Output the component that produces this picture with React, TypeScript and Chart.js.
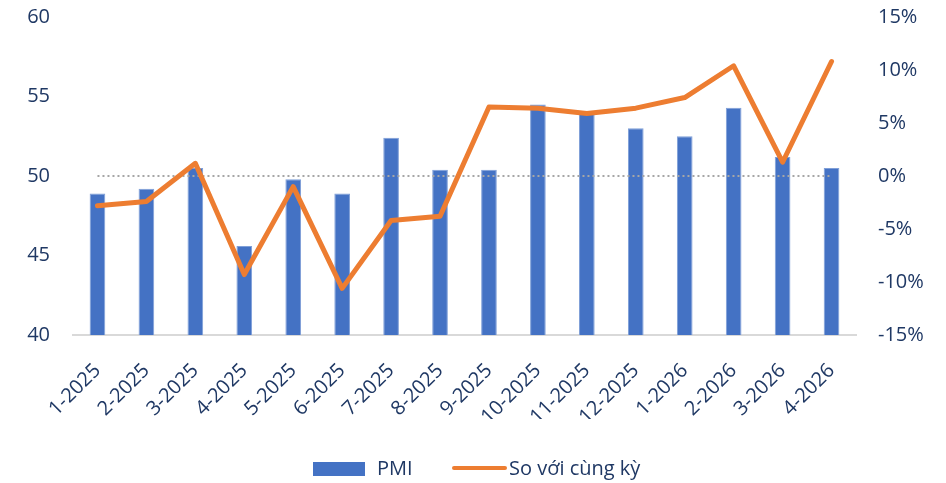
import React, { useEffect, useRef } from 'react';
import { Chart, registerables } from 'chart.js';

Chart.register(...registerables);

const categories = ['1-2025', '2-2025', '3-2025', '4-2025', '5-2025', '6-2025', '7-2025', '8-2025', '9-2025', '10-2025', '11-2025', '12-2025', '1-2026', '2-2026', '3-2026', '4-2026'];
const pmiValues = [48.9, 49.2, 50.5, 45.6, 49.8, 48.9, 52.4, 50.4, 50.4, 54.5, 54.0, 53.0, 52.5, 54.3, 51.2, 50.5];
const yoyValues = [-2.8, -2.4, 1.2, -9.3, -1.0, -10.6, -4.2, -3.8, 6.5, 6.4, 5.9, 6.4, 7.4, 10.4, 1.3, 10.8];
const thresholdValues = [50, 50, 50, 50, 50, 50, 50, 50, 50, 50, 50, 50, 50, 50, 50, 50];
const leftAxisRange = [40, 60];
const rightAxisRange = [-15, 15];
const seriesNames = ['PMI', 'So với cùng kỳ'];

const TEXT = '#1F3864';
const FONT = 'Open Sans';
const BAR = '#4472C4';
const LINE = '#ED7D31';

export default function App() {
  const ref = useRef<HTMLCanvasElement | null>(null);

  useEffect(() => {
    document.body.style.margin = '0';
    const ctx = ref.current!.getContext('2d')!;
    const chart = new Chart(ctx, {
      type: 'bar',
      data: {
        labels: categories,
        datasets: [
          {
            type: 'bar',
            label: seriesNames[0],
            data: pmiValues,
            backgroundColor: BAR,
            borderColor: '#7F9FD8',
            borderWidth: { top: 1, left: 1, right: 1, bottom: 0 },
            yAxisID: 'y',
            order: 2,
            barPercentage: 0.32,
            categoryPercentage: 1,
          } as any,
          {
            type: 'line',
            label: 'threshold',
            data: thresholdValues,
            borderColor: '#A6A6A6',
            borderWidth: 2,
            borderDash: [2, 3],
            pointRadius: 0,
            yAxisID: 'y',
            order: 1,
          } as any,
          {
            type: 'line',
            label: seriesNames[1],
            data: yoyValues,
            borderColor: LINE,
            backgroundColor: LINE,
            borderWidth: 5,
            pointRadius: 0,
            tension: 0,
            borderJoinStyle: 'round',
            borderCapStyle: 'round',
            yAxisID: 'y1',
            order: 0,
          } as any,
        ],
      },
      options: {
        responsive: false,
        animation: false,
        layout: { padding: { top: 17, left: 0, right: 0, bottom: 64 } },
        plugins: {
          tooltip: { enabled: false },
          legend: { display: false },
        },
        scales: {
          x: {
            offset: true,
            grid: { display: false, drawTicks: false },
            border: { display: true, color: '#D9D9D9', width: 2 },
            ticks: {
              color: TEXT,
              font: { family: FONT, size: 20 },
              minRotation: 45,
              maxRotation: 45,
              autoSkip: false,
              padding: 24,
            },
            afterFit: (s: any) => { s.height = 84; },
          },
          y: {
            position: 'left',
            min: leftAxisRange[0],
            max: leftAxisRange[1],
            grid: { display: false, drawTicks: true, tickLength: 23 },
            border: { display: false },
            ticks: { stepSize: 5, color: TEXT, font: { family: FONT, size: 20 }, padding: 0 },
            afterFit: (s: any) => { s.width = 73; },
          },
          y1: {
            position: 'right',
            min: rightAxisRange[0],
            max: rightAxisRange[1],
            grid: { display: false, drawTicks: true, tickLength: 22 },
            border: { display: false },
            ticks: {
              stepSize: 5,
              color: TEXT,
              font: { family: FONT, size: 20 },
              padding: 0,
              callback: (v: any) => v + '%',
            },
            afterFit: (s: any) => { s.width = 90; },
          },
        },
      } as any,
    });
    return () => chart.destroy();
  }, []);

  const textStyle: React.CSSProperties = {
    position: 'absolute',
    top: 454,
    fontFamily: FONT,
    fontSize: 20,
    lineHeight: '28px',
    color: TEXT,
    whiteSpace: 'nowrap',
  };

  return (
    <div style={{ position: 'relative', width: 946, height: 483 }}>
      <canvas ref={ref} width={946} height={483} style={{ display: 'block' }} />
      <div style={{ position: 'absolute', left: 313, top: 462, width: 52, height: 14, background: BAR }} />
      <span style={{ ...textStyle, left: 377 }}>{seriesNames[0]}</span>
      <div style={{ position: 'absolute', left: 452, top: 466, width: 55, height: 4, borderRadius: 2, background: LINE }} />
      <span style={{ ...textStyle, left: 509 }}>{seriesNames[1]}</span>
    </div>
  );
}
